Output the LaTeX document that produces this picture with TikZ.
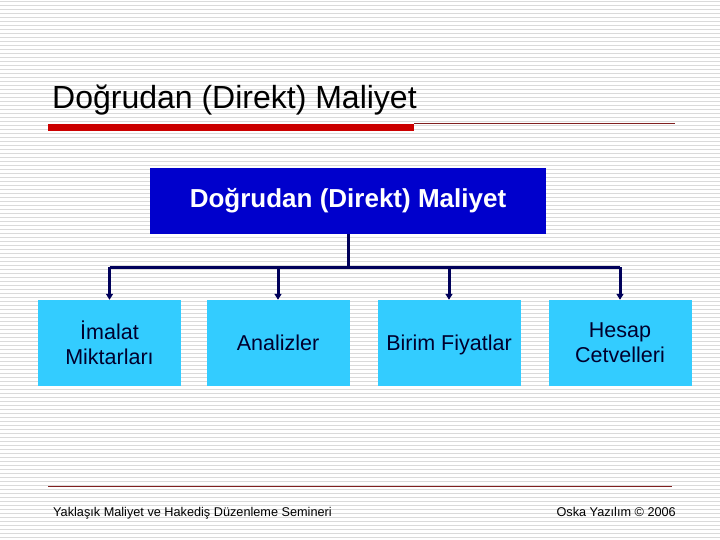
\documentclass[tikz,border=0pt]{standalone}
\usepackage{fontspec}
\setmainfont{Liberation Sans}
\usetikzlibrary{arrows.meta}
\definecolor{koyumavi}{RGB}{0,0,204}
\definecolor{acikmavi}{RGB}{51,204,255}
\definecolor{lacivert}{RGB}{0,0,90}
\definecolor{bordo}{RGB}{204,0,0}
\definecolor{koyubordo}{RGB}{128,32,32}
\definecolor{cizgi}{RGB}{218,218,218}
\tikzset{
  anakutu/.style={fill=koyumavi, text=white, minimum width=396pt, minimum height=66pt,
    inner sep=0pt, font=\fontsize{26}{30}\selectfont\bfseries},
  altkutu/.style={fill=acikmavi, text=lacivert!50!black, minimum width=143pt, minimum height=86pt,
    inner sep=0pt, align=center, font=\fontsize{21.5}{25}\selectfont},
  tek/.style={altkutu, text depth=-2pt},
  bag/.style={draw=lacivert, line width=3pt},
  ok/.style={bag, -{Triangle[length=6pt,width=7pt]}},
}
\begin{document}
\begin{tikzpicture}[x=1pt, y=-1pt]
  \useasboundingbox (0,0) rectangle (720,540);
  % cizgili arka plan
  \foreach \k in {0,...,134}
    \draw[cizgi, line width=1.3pt] (0,\k*4+1.5) -- (720,\k*4+1.5);

  % baslik
  \node[anchor=base west, inner sep=0pt, font=\fontsize{32}{36}\selectfont] (baslik) at (52,108.5)
    {Doğrudan (Direkt) Maliyet};
  \fill[bordo] (48,124) rectangle (414,131);
  \draw[koyubordo, line width=0.8pt] (414,123.5) -- (675,123.5);

  % kutular
  \node[anakutu] (maliyet) at (348,201) {Doğrudan (Direkt) Maliyet};
  \node[altkutu] (imalat) at (109.5,343) {İmalat\\Miktarları};
  \node[tek] (analiz) at (278,343) {Analizler};
  \node[tek] (fiyat) at (449,343) {Birim Fiyatlar};
  \node[altkutu] (hesap) at (620,343) {Hesap\\Cetvelleri};

  % baglantilar
  \draw[bag] (maliyet.south) -- ++(0,33) coordinate (dal);
  \draw[bag] (imalat.north |- dal) -- (hesap.north |- dal);
  \foreach \n in {imalat,analiz,fiyat,hesap}
    \draw[ok] (\n.north |- dal) -- (\n.north);

  % alt bilgi
  \draw[koyubordo, line width=0.8pt] (48,486) -- (672,486);
  \node[anchor=base west, inner sep=0pt, font=\fontsize{12.7}{15}\selectfont] (seminer) at (53,516)
    {Yaklaşık Maliyet ve Hakediş Düzenleme Semineri};
  \node[anchor=base east, inner sep=0pt, font=\fontsize{12.7}{15}\selectfont] (oska) at (676,516)
    {Oska Yazılım © 2006};
\end{tikzpicture}
\end{document}
